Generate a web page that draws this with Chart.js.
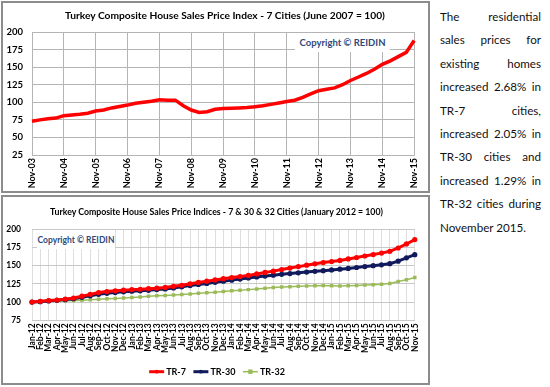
<!DOCTYPE html>
<html>
<head>
<meta charset="utf-8">
<script src="https://cdn.jsdelivr.net/npm/chart.js@4.4.0/dist/chart.umd.min.js"></script>
<style>
  body { margin:0; width:550px; height:387px; background:#fff; position:relative; overflow:hidden; font-family:Lato, sans-serif; }
  .box { position:absolute; border:2px solid #8c8c8c; box-sizing:border-box; }
  #box1 { left:1px; top:1px; width:429px; height:192px; }
  #box2 { left:1px; top:195px; width:429px; height:190px; }
  canvas { position:absolute; }
  #c1 { left:2px; top:2px; }
  #c2 { left:2px; top:197px; }
  .title { position:absolute; font-weight:bold; white-space:nowrap; color:#000; transform:translate(-50%,-50%); }
  #t1 { left:225px; top:15px; }
  #t2 { left:216.5px; top:210.7px; }
  .copy { position:absolute; background:#fff; color:#2f4a7c; font-weight:bold; display:flex; align-items:center; justify-content:center; white-space:nowrap; }
  #cp1 { left:295px; top:33px; width:95px; height:19px; font-size:9.5px; }
  #cp2 { left:37px; top:230px; width:78px; height:19px; font-size:8.5px; }
  #note { position:absolute; left:440px; top:5px; width:101px; line-height:23.4px; color:#111; }
  #note div { text-align:justify; text-align-last:justify; white-space:nowrap; }
  #note div.last { text-align-last:left; }
</style>
</head>
<body>
<div class="box" id="box1"></div>
<div class="box" id="box2"></div>
<canvas id="c1" width="426" height="189"></canvas>
<canvas id="c2" width="426" height="186"></canvas>
<div class="title" id="t1">Turkey Composite House Sales Price Index - 7 Cities (June 2007 = 100)</div>
<div class="title" id="t2">Turkey Composite House Sales Price Indices - 7 &amp; 30 &amp; 32 Cities (January 2012 = 100)</div>
<div class="copy" id="cp1">Copyright © REIDIN</div>
<div class="copy" id="cp2">Copyright © REIDIN</div>
<div id="note">
  <div>The residential</div>
  <div>sales prices for</div>
  <div>existing homes</div>
  <div>increased 2.68% in</div>
  <div>TR-7 cities,</div>
  <div>increased 2.05% in</div>
  <div>TR-30 cities and</div>
  <div>increased 1.29% in</div>
  <div>TR-32 cities during</div>
  <div class="last">November 2015.</div>
</div>
<script>
// top chart: quarterly readings, Nov-03 .. Nov-15
const topLabels = ['Nov-03','Feb-04','May-04','Aug-04','Nov-04','Feb-05','May-05','Aug-05',
  'Nov-05','Feb-06','May-06','Aug-06','Nov-06','Feb-07','May-07','Aug-07',
  'Nov-07','Feb-08','May-08','Aug-08','Nov-08','Feb-09','May-09','Aug-09',
  'Nov-09','Feb-10','May-10','Aug-10','Nov-10','Feb-11','May-11','Aug-11',
  'Nov-11','Feb-12','May-12','Aug-12','Nov-12','Feb-13','May-13','Aug-13',
  'Nov-13','Feb-14','May-14','Aug-14','Nov-14','Feb-15','May-15','Aug-15','Nov-15'];
const topValues = [73, 75, 76.5, 77.5, 81, 82, 83, 84.5,
  87.5, 89, 92, 94, 96, 98.5, 100, 101.5,
  103.5, 103, 103, 95, 89, 85.5, 86.5, 90,
  91, 91.5, 92, 92.5, 93.5, 95, 97, 99,
  101, 103, 107, 112, 116.5, 118.5, 120.5, 125,
  131, 136, 141, 147, 154, 159, 165, 171, 188];

// bottom chart: monthly, Jan-12 .. Nov-15
const monthLabels = ['Jan-12','Feb-12','Mar-12','Apr-12','May-12','Jun-12','Jul-12','Aug-12','Sep-12','Oct-12','Nov-12','Dec-12',
  'Jan-13','Feb-13','Mar-13','Apr-13','May-13','Jun-13','Jul-13','Aug-13','Sep-13','Oct-13','Nov-13','Dec-13',
  'Jan-14','Feb-14','Mar-14','Apr-14','May-14','Jun-14','Jul-14','Aug-14','Sep-14','Oct-14','Nov-14','Dec-14',
  'Jan-15','Feb-15','Mar-15','Apr-15','May-15','Jun-15','Jul-15','Aug-15','Sep-15','Oct-15','Nov-15'];
const tr7 = [100, 101, 102, 102.8, 104, 105.5, 108, 110.5, 113, 114.3, 115.3, 116.3,
  117, 117.5, 118.3, 119, 120, 121.5, 123, 125, 126.8, 128.5, 130.3, 132,
  133.5, 135, 136.5, 138.5, 140.5, 142.3, 144.5, 146.5, 148.5, 150.5, 152.3, 154,
  155.5, 157, 159, 161, 163, 165, 167, 169.5, 174, 179.5, 185.5];
const tr30 = [100, 100.5, 101.5, 102.3, 103.3, 104.5, 106.5, 108.5, 110.5, 112, 113, 114,
  114.8, 115.3, 116, 117, 118, 119.3, 120.8, 122.5, 124, 125.5, 127, 128.5,
  130, 131.5, 133, 134.3, 135.5, 136.8, 138, 139, 140, 141, 142, 143,
  144, 145, 146, 147.3, 148.5, 149.8, 151, 152.5, 156, 160.5, 164.8];
const tr32 = [100, 100.5, 101, 101.5, 101.8, 102, 102.5, 103, 103.8, 104.5, 105, 105.5,
  106.3, 107, 107.8, 108.5, 109, 109.5, 110.3, 111, 112, 112.8, 113.5, 114.5,
  115.3, 116.2, 117, 118, 119, 119.8, 120.5, 121, 121.5, 122, 122.3, 122.5,
  122.3, 122, 122.3, 122.7, 123.2, 123.8, 124.5, 125.5, 128, 130.5, 133.5];

function textWidth(text, css) {
  const s = document.createElement('span');
  s.textContent = text;
  s.style.cssText = 'position:absolute;white-space:nowrap;font-size:10px;' + css;
  document.body.appendChild(s);
  const w = s.getBoundingClientRect().width;
  s.remove();
  return w;
}

// legend drawn as line + marker, like the spreadsheet legend
const lineLegend = {
  id: 'lineLegend',
  afterDraw(chart) {
    const ctx = chart.ctx;
    const sets = chart.data.datasets;
    ctx.save();
    ctx.font = 'bold 9px Lato';
    const seg = 15, gap = 2, between = 7.5;
    let total = 0;
    sets.forEach((d, i) => { total += seg + gap + ctx.measureText(d.label).width + (i ? between : 0); });
    let x = chart.width / 2 + 2 - total / 2;
    const y = 174.7;
    sets.forEach((d, i) => {
      if (i) x += between;
      ctx.strokeStyle = d.borderColor;
      ctx.lineWidth = d.borderWidth;
      ctx.beginPath(); ctx.moveTo(x, y); ctx.lineTo(x + seg, y); ctx.stroke();
      ctx.fillStyle = d.borderColor;
      const r = d.pointRadius + 0.8;
      if (d.pointStyle === 'rect') ctx.fillRect(x + seg / 2 - r, y - r, r * 2, r * 2);
      else { ctx.beginPath(); ctx.arc(x + seg / 2, y, r, 0, Math.PI * 2); ctx.fill(); }
      x += seg + gap;
      ctx.fillStyle = '#000';
      ctx.textBaseline = 'middle';
      ctx.fillText(d.label, x, y);
      x += ctx.measureText(d.label).width;
    });
    ctx.restore();
  }
};

function draw() {
  const t1 = document.getElementById('t1'), t2 = document.getElementById('t2');
  t1.style.fontSize = (10 * 320 / textWidth(t1.textContent, 'font-weight:bold')) + 'px';
  t2.style.fontSize = (10 * 333 / textWidth(t2.textContent, 'font-weight:bold')) + 'px';
  document.getElementById('note').style.fontSize = (10 * 96 / textWidth('increased 2.68% in', '')) + 'px';

  Chart.defaults.font.family = 'Lato';
  Chart.defaults.color = '#000';
  Chart.defaults.animation = false;

  const grid1 = '#b4b4b4';
  new Chart(document.getElementById('c1'), {
    type: 'line',
    data: {
      labels: topLabels,
      datasets: [{ data: topValues, borderColor: '#ff0000', borderWidth: 3.5, pointRadius: 0, tension: 0 }]
    },
    options: {
      responsive: false,
      layout: { padding: { left: 0, right: 10, top: 30, bottom: 0 } },
      plugins: { legend: { display: false }, tooltip: { enabled: false } },
      scales: {
        x: {
          offset: false,
          grid: { color: c => (c.index % 4 === 0 ? grid1 : 'rgba(0,0,0,0)'), drawTicks: false },
          border: { color: grid1 },
          ticks: {
            autoSkip: false, maxRotation: 90, minRotation: 90, padding: 3,
            font: { size: 9, weight: 'bold' },
            callback: (v, i) => (i % 4 === 0 ? topLabels[i] : '')
          },
          afterFit: s => { s.height = 36; }
        },
        y: {
          min: 25, max: 200,
          ticks: { stepSize: 25, padding: 9, font: { size: 9.5, weight: 'bold' } },
          grid: { color: grid1, drawTicks: false },
          border: { display: false },
          afterFit: s => { s.width = 30; }
        }
      }
    }
  });

  new Chart(document.getElementById('c2'), {
    type: 'line',
    data: {
      labels: monthLabels,
      datasets: [
        { label: 'TR-7', data: tr7, borderColor: '#ff0000', backgroundColor: '#ff0000', borderWidth: 3, pointRadius: 1.1, pointStyle: 'circle' },
        { label: 'TR-30', data: tr30, borderColor: '#111a5c', backgroundColor: '#111a5c', borderWidth: 3, pointRadius: 1.1, pointStyle: 'circle' },
        { label: 'TR-32', data: tr32, borderColor: '#9bbb59', backgroundColor: '#9bbb59', borderWidth: 1.5, pointRadius: 1.4, pointStyle: 'rect' }
      ]
    },
    options: {
      responsive: false,
      layout: { padding: { left: 0, right: 11.3, top: 32, bottom: 28 } },
      plugins: { legend: { display: false }, tooltip: { enabled: false } },
      scales: {
        x: {
          offset: false,
          grid: { color: '#dedede', drawTicks: false },
          border: { color: '#c8c8c8' },
          ticks: { autoSkip: false, maxRotation: 90, minRotation: 90, padding: 3, font: { size: 8.5, weight: 'bold' } },
          afterFit: s => { s.height = 34.7; }
        },
        y: {
          min: 75, max: 200,
          ticks: { stepSize: 25, padding: 11, font: { size: 8.5, weight: 'bold' } },
          grid: { color: '#c8c8c8', drawTicks: false },
          border: { display: false },
          afterFit: s => { s.width = 30; }
        }
      }
    },
    plugins: [lineLegend]
  });
}

Promise.all([
  document.fonts.load('bold 10px Lato'),
  document.fonts.load('10px Lato')
]).then(draw, draw);
</script>
</body>
</html>
